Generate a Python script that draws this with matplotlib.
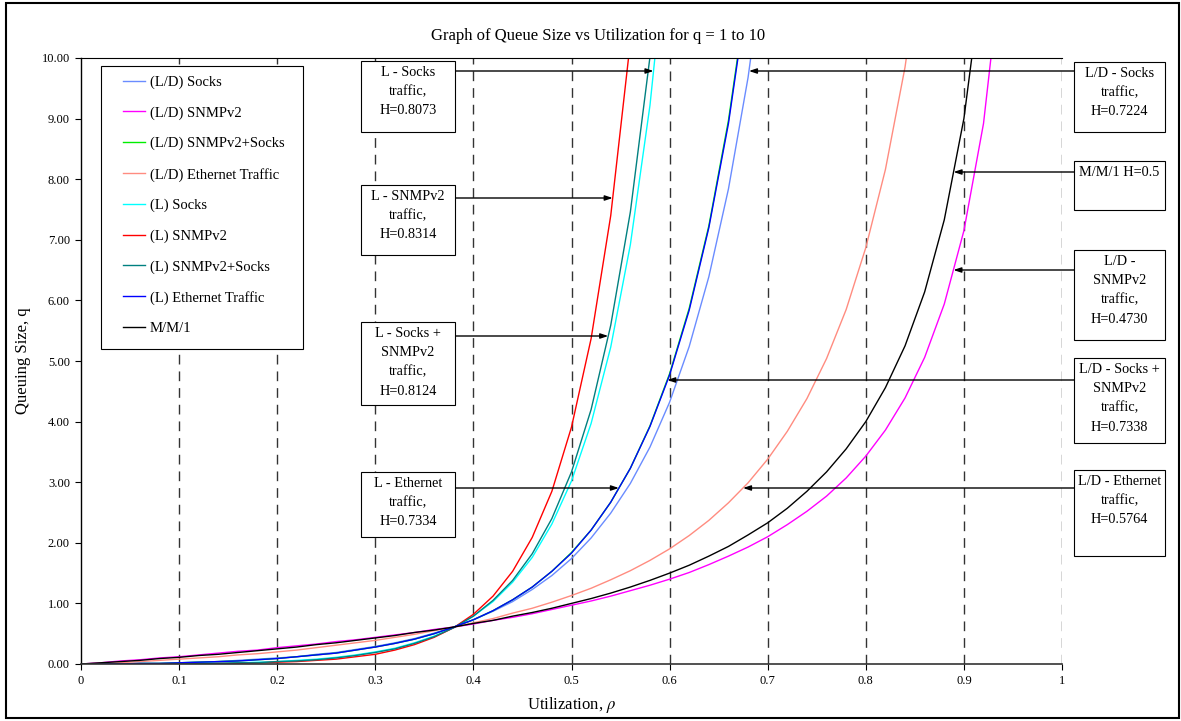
import numpy as np
import matplotlib.pyplot as plt
from matplotlib.patches import Rectangle

plt.rcParams['font.family'] = ['Liberation Serif', 'DejaVu Serif']
plt.rcParams['mathtext.fontset'] = 'stix'

# utilisation grid (step 0.02); each series stops at the first value above 10
rho = [0.00, 0.02, 0.04, 0.06, 0.08, 0.10, 0.12, 0.14, 0.16, 0.18,
       0.20, 0.22, 0.24, 0.26, 0.28, 0.30, 0.32, 0.34, 0.36, 0.38,
       0.40, 0.42, 0.44, 0.46, 0.48, 0.50, 0.52, 0.54, 0.56, 0.58,
       0.60, 0.62, 0.64, 0.66, 0.68, 0.70, 0.72, 0.74, 0.76, 0.78,
       0.80, 0.82, 0.84, 0.86, 0.88, 0.90, 0.92, 0.94]

ld_socks = [0.00, 0.00, 0.00, 0.01, 0.01, 0.02, 0.03, 0.04, 0.06, 0.08,
            0.10, 0.12, 0.16, 0.19, 0.24, 0.29, 0.35, 0.42, 0.51, 0.61,
            0.73, 0.87, 1.03, 1.23, 1.46, 1.74, 2.08, 2.49, 2.98, 3.58,
            4.32, 5.24, 6.39, 7.84, 9.68, 12.07]
ld_snmp = [0.00, 0.02, 0.05, 0.07, 0.10, 0.12, 0.15, 0.18, 0.21, 0.23,
           0.27, 0.30, 0.33, 0.37, 0.40, 0.44, 0.48, 0.52, 0.57, 0.61,
           0.66, 0.72, 0.77, 0.83, 0.90, 0.97, 1.04, 1.12, 1.21, 1.30,
           1.40, 1.51, 1.64, 1.78, 1.93, 2.10, 2.30, 2.52, 2.77, 3.07,
           3.43, 3.86, 4.39, 5.06, 5.94, 7.15, 8.92, 11.78]
ld_both = [0.00, 0.00, 0.00, 0.01, 0.01, 0.02, 0.03, 0.04, 0.05, 0.07,
           0.09, 0.12, 0.15, 0.18, 0.23, 0.28, 0.34, 0.41, 0.50, 0.61,
           0.73, 0.88, 1.06, 1.27, 1.53, 1.84, 2.21, 2.67, 3.23, 3.93,
           4.79, 5.87, 7.23, 8.97, 11.21]
ld_eth = [0.00, 0.01, 0.02, 0.04, 0.06, 0.08, 0.10, 0.12, 0.15, 0.17,
          0.20, 0.23, 0.27, 0.31, 0.35, 0.39, 0.44, 0.49, 0.55, 0.61,
          0.68, 0.75, 0.84, 0.92, 1.02, 1.13, 1.25, 1.39, 1.54, 1.71,
          1.90, 2.12, 2.37, 2.66, 2.99, 3.38, 3.84, 4.38, 5.04, 5.85,
          6.87, 8.16, 9.85, 12.15]
l_socks = [0.00, 0.00, 0.00, 0.00, 0.00, 0.00, 0.01, 0.01, 0.02, 0.03,
           0.04, 0.06, 0.08, 0.11, 0.15, 0.20, 0.26, 0.35, 0.46, 0.60,
           0.79, 1.03, 1.35, 1.76, 2.31, 3.02, 3.97, 5.23, 6.92, 9.22,
           12.35]
l_snmp = [0.00, 0.00, 0.00, 0.00, 0.00, 0.00, 0.00, 0.01, 0.01, 0.02,
          0.03, 0.04, 0.06, 0.08, 0.12, 0.16, 0.23, 0.32, 0.44, 0.60,
          0.82, 1.12, 1.53, 2.09, 2.85, 3.91, 5.37, 7.40, 10.27]
l_both = [0.00, 0.00, 0.00, 0.00, 0.00, 0.00, 0.01, 0.01, 0.02, 0.02,
          0.04, 0.05, 0.07, 0.10, 0.14, 0.19, 0.25, 0.34, 0.45, 0.60,
          0.79, 1.05, 1.38, 1.82, 2.40, 3.17, 4.20, 5.59, 7.46, 10.02]
l_eth = [0.00, 0.00, 0.00, 0.01, 0.01, 0.02, 0.03, 0.04, 0.05, 0.07,
         0.09, 0.12, 0.15, 0.18, 0.23, 0.28, 0.34, 0.41, 0.50, 0.61,
         0.73, 0.88, 1.06, 1.27, 1.53, 1.83, 2.21, 2.67, 3.23, 3.92,
         4.77, 5.84, 7.20, 8.92, 11.15]
mm1 = [0.00, 0.02, 0.04, 0.06, 0.09, 0.11, 0.14, 0.16, 0.19, 0.22,
       0.25, 0.28, 0.32, 0.35, 0.39, 0.43, 0.47, 0.52, 0.56, 0.61,
       0.67, 0.72, 0.79, 0.85, 0.92, 1.00, 1.08, 1.17, 1.27, 1.38,
       1.50, 1.63, 1.78, 1.94, 2.13, 2.33, 2.57, 2.85, 3.17, 3.55,
       4.00, 4.56, 5.25, 6.14, 7.33, 9.00, 11.50]

series = [
    ('(L/D) Socks', ld_socks, '#6a8cff'),
    ('(L/D) SNMPv2', ld_snmp, '#ff00ff'),
    ('(L/D) SNMPv2+Socks', ld_both, '#00ee00'),
    ('(L/D) Ethernet Traffic', ld_eth, '#ff8c80'),
    ('(L) Socks', l_socks, '#00ffff'),
    ('(L) SNMPv2', l_snmp, '#ff0000'),
    ('(L) SNMPv2+Socks', l_both, '#008080'),
    ('(L) Ethernet Traffic', l_eth, '#0000ff'),
    ('M/M/1', mm1, '#000000'),
]

W, Hpx = 1181, 721
fig = plt.figure(figsize=(W / 100, Hpx / 100), dpi=100)
ax = fig.add_axes([81 / W, 1 - 664 / Hpx, 981 / W, 606 / Hpx])


def to_ax(px, py):
    # figure pixels -> axes fraction
    return (px - 81) / 981, (664 - py) / 606


for name, q, col in series:
    ax.plot(rho[:len(q)], q, color=col, lw=1.0, label=name)

ax.set_xlim(0, 1)
ax.set_ylim(0, 10)
ax.set_xticks(np.arange(0, 1.01, 0.1))
ax.set_xticklabels(['0', '0.1', '0.2', '0.3', '0.4', '0.5', '0.6', '0.7', '0.8', '0.9', '1'])
ax.set_yticks(np.arange(0, 10.01, 1))
ax.set_yticklabels([f'{v:.2f}' for v in range(11)])
ax.tick_params(direction='out', length=4, width=0.8, labelsize=9, pad=4)
for xv in np.arange(0.1, 1.01, 0.1):
    ax.axvline(xv, color='#333333', lw=1.0, ls=(0, (7, 5)), zorder=0)
ax.spines['right'].set_visible(False)
ax.spines['top'].set_linewidth(0.8)
ax.spines['left'].set_linewidth(1.0)
ax.spines['bottom'].set_linewidth(1.2)
ax.spines['bottom'].set_color('#333333')

ax.set_xlabel('Utilization, $\\rho$', fontsize=12, labelpad=6)
ax.set_ylabel('Queuing Size, q', fontsize=12, labelpad=8)
fig.text(598 / W, 1 - 36 / Hpx, 'Graph of Queue Size vs Utilization for q = 1 to 10',
         ha='center', va='center', fontsize=12)

# legend with a fixed frame
x0, y0 = to_ax(101, 349)
x1, y1 = to_ax(303, 66)
ax.add_patch(Rectangle((x0, y0), x1 - x0, y1 - y0, transform=ax.transAxes,
                       fill=True, fc='white', ec='black', lw=0.8, zorder=4))
lx, ly = to_ax(123, 75.5)
leg = ax.legend(loc='upper left', bbox_to_anchor=(lx, ly), frameon=False,
                fontsize=10.5, borderpad=0, borderaxespad=0, labelspacing=1.18,
                handlelength=1.5, handletextpad=0.35)
leg.set_zorder(5)

# annotation boxes: (text, box px left, right, top, bottom, arrow y px, series)
boxes = [
    ('L - Socks\ntraffic,\nH=0.8073', 361, 455, 61, 132, 71, l_socks),
    ('L - SNMPv2\ntraffic,\nH=0.8314', 361, 455, 185, 255, 198, l_snmp),
    ('L - Socks +\nSNMPv2\ntraffic,\nH=0.8124', 361, 455, 322, 405, 336, l_both),
    ('L - Ethernet\ntraffic,\nH=0.7334', 361, 455, 472, 537, 488, l_eth),
    ('L/D - Socks\ntraffic,\nH=0.7224', 1074, 1165, 62, 132, 71, ld_socks),
    ('M/M/1 H=0.5', 1074, 1165, 161, 210, 172, mm1),
    ('L/D -\nSNMPv2\ntraffic,\nH=0.4730', 1074, 1165, 250, 340, 270, ld_snmp),
    ('L/D - Socks +\nSNMPv2\ntraffic,\nH=0.7338', 1074, 1165, 358, 443, 380, ld_both),
    ('L/D - Ethernet\ntraffic,\nH=0.5764', 1074, 1165, 470, 556, 488, ld_eth),
]
for text, bl, br, bt, bb, ay, q in boxes:
    fig.patches.append(Rectangle((bl / W, 1 - bb / Hpx), (br - bl) / W, (bb - bt) / Hpx,
                                 transform=fig.transFigure, fill=True, fc='white',
                                 ec='black', lw=0.8, zorder=5))
    fig.text((bl + br) / 2 / W, 1 - (bt + 5) / Hpx, text, ha='center', va='top',
             fontsize=10.3, linespacing=1.62, zorder=6)
    qy = (664 - ay) / 60.6
    tip = np.interp(qy, q, rho[:len(q)])
    start = bl if bl > 700 else br
    sx, _ = to_ax(start, ay)
    ax.annotate('', xy=(tip, qy), xytext=(sx, qy), textcoords=('axes fraction', 'data'),
                annotation_clip=False,
                arrowprops=dict(arrowstyle='-|>,head_length=0.45,head_width=0.15',
                                color='black', lw=1.0, shrinkA=0, shrinkB=0))

# outer frame
fig.patches.append(Rectangle((6 / W, 1 - 718 / Hpx), 1173 / W, 715 / Hpx,
                             transform=fig.transFigure, fill=False, ec='black', lw=1.5))

fig.savefig('out.png', dpi=100)
